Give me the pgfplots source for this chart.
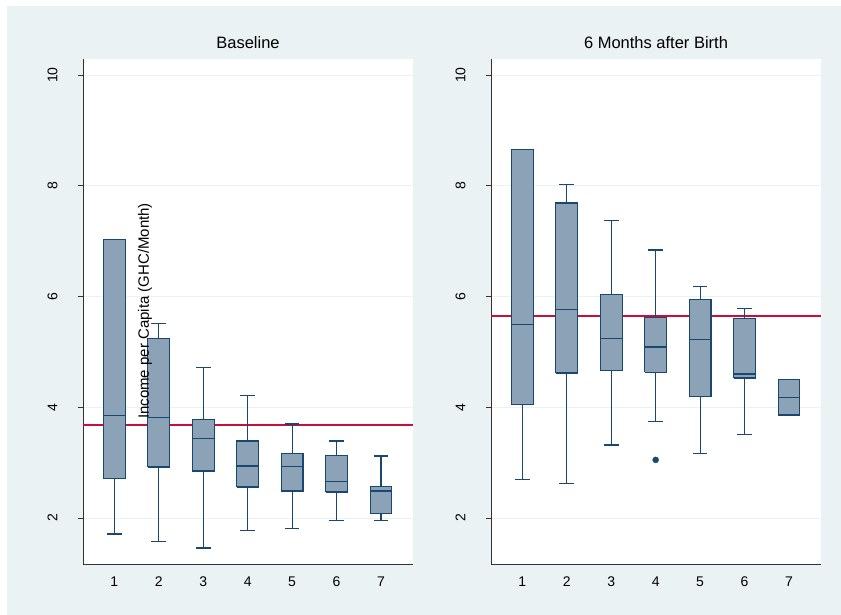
\documentclass[border=0pt]{standalone}
\usepackage{pgfplots}
\pgfplotsset{compat=1.18}
\usepackage{fontspec}
\setmainfont{Liberation Sans}
\definecolor{bgc}{RGB}{234,242,243}
\definecolor{navy}{RGB}{26,71,111}
\definecolor{boxfill}{RGB}{140,163,183}
\definecolor{refred}{RGB}{200,15,60}
\definecolor{gridc}{RGB}{234,242,243}
\pgfplotsset{
  panel/.style={
    scale only axis, width=330pt, height=505pt,
    xmin=0.295, xmax=7.72, ymin=1.17, ymax=10.29,
    clip=false,
    axis lines*=left,
    axis line style={draw=black!80, line width=0.8pt},
    xtick={1,2,3,4,5,6,7}, ytick={2,4,6,8,10},
    x tick style={draw=none},
    y tick style={draw=black!80, line width=0.8pt},
    tick align=outside, major tick length=5pt,
    ymajorgrids, grid style={gridc, line width=1pt},
    axis background/.style={fill=white},
    /pgf/number format/assume math mode=true,
    tick label style={font=\fontsize{14}{16}\selectfont},
    yticklabel style={rotate=90, anchor=south},
    yticklabel shift=17pt,
    xticklabel style={yshift=-4pt},
    title style={font=\fontsize{16.5}{18}\selectfont, at={(0.5,1)}, anchor=south, yshift=1pt},
    unbounded coords=jump,
  },
  ref/.style={draw=refred, line width=1.2pt, mark=none},
  wh/.style={draw=navy, line width=1.2pt, mark=none},
  bx/.style={draw=navy, fill=boxfill, line width=1.2pt, mark=none, line cap=square, line join=miter},
}
\begin{document}
\begin{tikzpicture}[x=1pt,y=1pt]
\fill[white] (0,0) rectangle (841,615);
\fill[bgc] (7,0) rectangle (841,609);
% ---------------- Left panel ----------------
\begin{axis}[panel, at={(83pt,51pt)}, anchor=south west, title={Baseline}]
\addplot[ref] coordinates {(0.295,3.68) (7.72,3.68)};
% whiskers and caps
\addplot[wh] coordinates {
(1,1.71) (1,2.71) (0,nan) (0.835,1.71) (1.165,1.71) (0,nan)
(2,1.58) (2,2.92) (0,nan) (1.835,1.58) (2.165,1.58) (0,nan) (2,5.24) (2,5.51) (0,nan) (1.835,5.51) (2.165,5.51) (0,nan)
(3,1.46) (3,2.85) (0,nan) (2.835,1.46) (3.165,1.46) (0,nan) (3,3.78) (3,4.72) (0,nan) (2.835,4.72) (3.165,4.72) (0,nan)
(4,1.77) (4,2.56) (0,nan) (3.835,1.77) (4.165,1.77) (0,nan) (4,3.39) (4,4.21) (0,nan) (3.835,4.21) (4.165,4.21) (0,nan)
(5,1.81) (5,2.49) (0,nan) (4.835,1.81) (5.165,1.81) (0,nan) (5,3.16) (5,3.70) (0,nan) (4.835,3.70) (5.165,3.70) (0,nan)
(6,1.95) (6,2.47) (0,nan) (5.835,1.95) (6.165,1.95) (0,nan) (6,3.13) (6,3.39) (0,nan) (5.835,3.39) (6.165,3.39) (0,nan)
(7,1.95) (7,2.08) (0,nan) (6.835,1.95) (7.165,1.95) (0,nan) (7,2.57) (7,3.12) (0,nan) (6.835,3.12) (7.165,3.12)
};
% boxes (lower quartile to upper quartile)
\addplot[bx] coordinates {(0.755,2.71) (1.245,2.71) (1.245,7.03) (0.755,7.03) (0.755,2.71)};
\addplot[bx] coordinates {(1.755,2.92) (2.245,2.92) (2.245,5.24) (1.755,5.24) (1.755,2.92)};
\addplot[bx] coordinates {(2.755,2.85) (3.245,2.85) (3.245,3.78) (2.755,3.78) (2.755,2.85)};
\addplot[bx] coordinates {(3.755,2.56) (4.245,2.56) (4.245,3.39) (3.755,3.39) (3.755,2.56)};
\addplot[bx] coordinates {(4.755,2.49) (5.245,2.49) (5.245,3.16) (4.755,3.16) (4.755,2.49)};
\addplot[bx] coordinates {(5.755,2.47) (6.245,2.47) (6.245,3.13) (5.755,3.13) (5.755,2.47)};
\addplot[bx] coordinates {(6.755,2.08) (7.245,2.08) (7.245,2.57) (6.755,2.57) (6.755,2.08)};
% medians
\addplot[wh] coordinates {
(0.755,3.85) (1.245,3.85) (0,nan) (1.755,3.81) (2.245,3.81) (0,nan)
(2.755,3.43) (3.245,3.43) (0,nan) (3.755,2.94) (4.245,2.94) (0,nan)
(4.755,2.93) (5.245,2.93) (0,nan) (5.755,2.66) (6.245,2.66) (0,nan)
(6.755,2.49) (7.245,2.49)
};
\end{axis}
\node[rotate=90, font=\fontsize{15}{17}\selectfont] at (145,304) {Income per Capita (GHC/Month)};
% ---------------- Right panel ----------------
\begin{axis}[panel, at={(491pt,51pt)}, anchor=south west, title={6 Months after Birth}]
\addplot[ref] coordinates {(0.295,5.65) (7.72,5.65)};
\addplot[wh] coordinates {
(1,2.69) (1,4.05) (0,nan) (0.835,2.69) (1.165,2.69) (0,nan)
(2,2.62) (2,4.62) (0,nan) (1.835,2.62) (2.165,2.62) (0,nan) (2,7.69) (2,8.02) (0,nan) (1.835,8.02) (2.165,8.02) (0,nan)
(3,3.32) (3,4.67) (0,nan) (2.835,3.32) (3.165,3.32) (0,nan) (3,6.04) (3,7.37) (0,nan) (2.835,7.37) (3.165,7.37) (0,nan)
(4,3.74) (4,4.63) (0,nan) (3.835,3.74) (4.165,3.74) (0,nan) (4,5.62) (4,6.84) (0,nan) (3.835,6.84) (4.165,6.84) (0,nan)
(5,3.16) (5,4.20) (0,nan) (4.835,3.16) (5.165,3.16) (0,nan) (5,5.95) (5,6.18) (0,nan) (4.835,6.18) (5.165,6.18) (0,nan)
(6,3.51) (6,4.53) (0,nan) (5.835,3.51) (6.165,3.51) (0,nan) (6,5.60) (6,5.78) (0,nan) (5.835,5.78) (6.165,5.78)
};
\addplot[bx] coordinates {(0.755,4.05) (1.245,4.05) (1.245,8.66) (0.755,8.66) (0.755,4.05)};
\addplot[bx] coordinates {(1.755,4.62) (2.245,4.62) (2.245,7.69) (1.755,7.69) (1.755,4.62)};
\addplot[bx] coordinates {(2.755,4.67) (3.245,4.67) (3.245,6.04) (2.755,6.04) (2.755,4.67)};
\addplot[bx] coordinates {(3.755,4.63) (4.245,4.63) (4.245,5.62) (3.755,5.62) (3.755,4.63)};
\addplot[bx] coordinates {(4.755,4.20) (5.245,4.20) (5.245,5.95) (4.755,5.95) (4.755,4.20)};
\addplot[bx] coordinates {(5.755,4.53) (6.245,4.53) (6.245,5.60) (5.755,5.60) (5.755,4.53)};
\addplot[bx] coordinates {(6.755,3.86) (7.245,3.86) (7.245,4.50) (6.755,4.50) (6.755,3.86)};
\addplot[wh] coordinates {
(0.755,5.50) (1.245,5.50) (0,nan) (1.755,5.76) (2.245,5.76) (0,nan)
(2.755,5.24) (3.245,5.24) (0,nan) (3.755,5.09) (4.245,5.09) (0,nan)
(4.755,5.22) (5.245,5.22) (0,nan) (5.755,4.60) (6.245,4.60) (0,nan)
(6.755,4.17) (7.245,4.17)
};
% outlier
\addplot[only marks, mark=*, mark size=3pt, mark options={draw=navy, fill=navy}] coordinates {(4,3.05)};
\end{axis}
\end{tikzpicture}
\end{document}
